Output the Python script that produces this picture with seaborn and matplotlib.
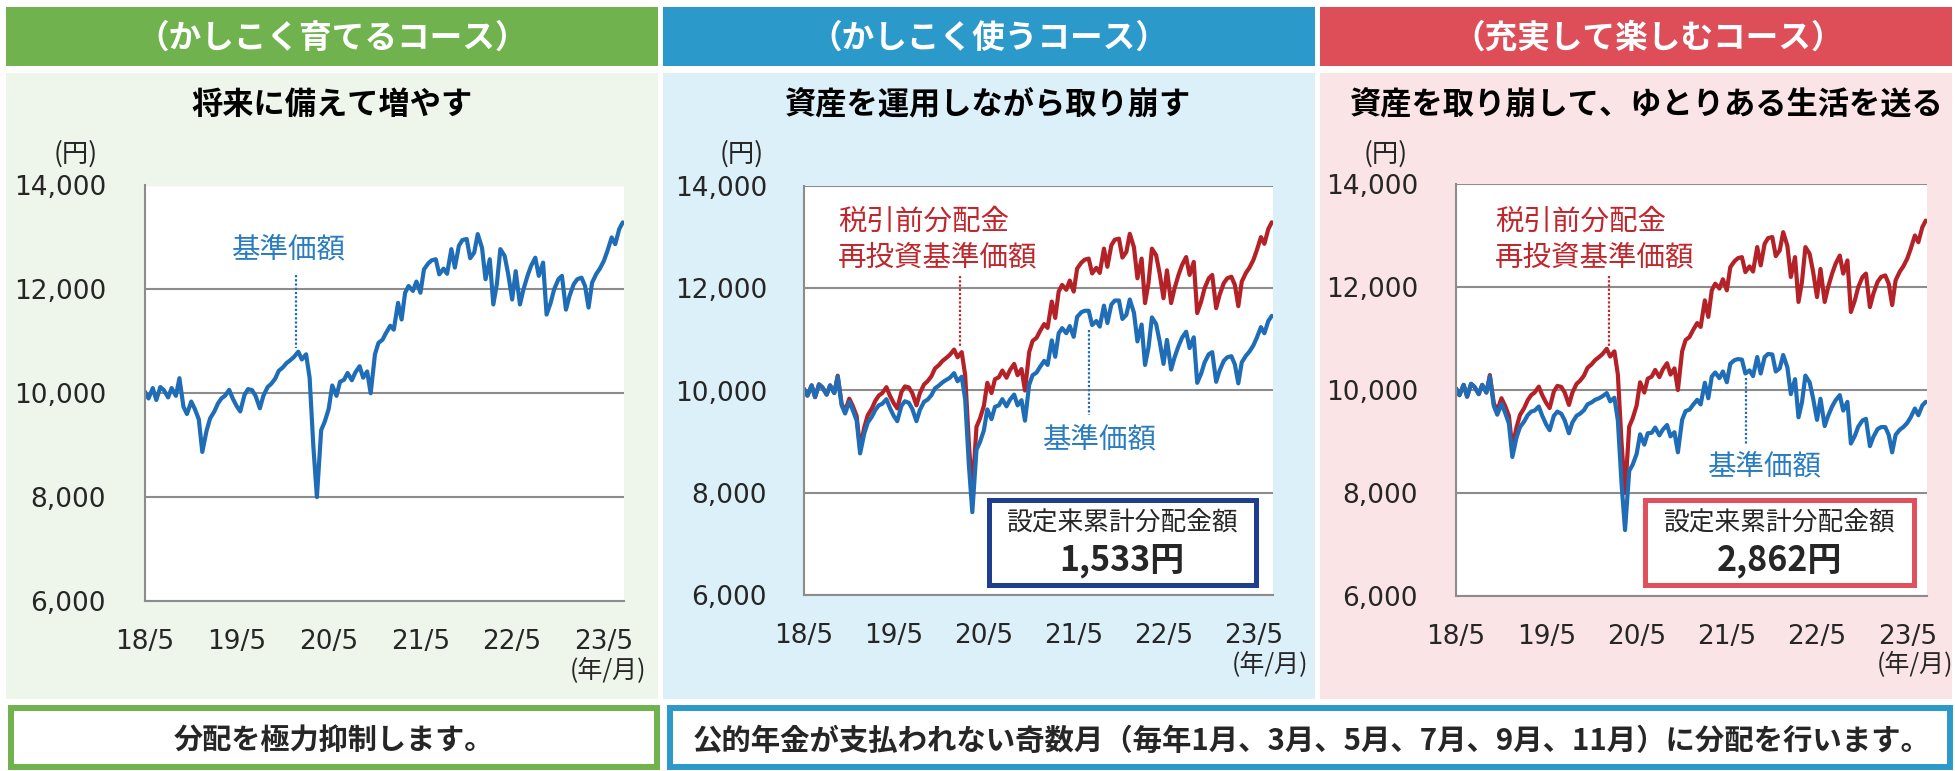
"""Three course comparison: NAV vs dividend-reinvested NAV"""

import pandas as pd
import matplotlib.pyplot as plt
import matplotlib.patches as mpatches
from matplotlib.lines import Line2D
import seaborn as sns

W, H = 1955, 771

# semi-monthly readings (1st / 15th), 2018/5 .. 2023/7
reinvest_nav = [
    10030, 9900, 10100, 9870, 10120, 10060, 9920, 10100, 9950,
    10290, 9740, 9600, 9840, 9700, 9500, 8870, 9280, 9515, 9650, 9800, 9900, 9950, 10065,
    9900, 9750, 9650, 9970, 10080, 10060, 9950, 9710, 9950, 10120, 10180, 10280, 10430,
    10500, 10580, 10640, 10700, 10800, 10650, 10750,
    10300, 8970, 8000, 9290, 9450, 9700, 10150, 9950, 10220, 10260, 10390, 10250, 10400,
    10520, 10300, 10420, 10000, 10750, 10970, 11030, 11160, 11300, 11225, 11740,
    11420, 11935, 12065, 11970, 12150, 11935, 12385, 12500, 12560, 12580, 12290, 12400,
    12300, 12775, 12420, 12840, 12950, 12970, 12600, 12710, 13065, 12800,
    12195, 12580, 11710, 12100, 12775, 12645, 12300, 11805, 12350, 11710, 12000, 12260,
    12450, 12610, 12260, 12515, 11515, 11740,
    12000, 12195, 12260, 11610, 11870, 12100, 12195, 12225, 12065, 11650, 12130, 12300,
    12400, 12550, 12740, 13000, 12870, 13160, 13290,
]
nav_use = [
    10030, 9900, 10100, 9870, 10120, 10060, 9920, 10100, 9950,
    10270, 9710, 9550, 9780, 9620, 9410, 8770, 9160, 9370, 9490, 9620, 9710, 9740, 9830,
    9660, 9500, 9400, 9700, 9790, 9760, 9640, 9400, 9620, 9780, 9820, 9910, 10040,
    10100, 10160, 10210, 10250, 10340, 10180, 10270,
    9830, 8550, 7620, 8840, 8990, 9220, 9630, 9440, 9680, 9710, 9830, 9690, 9820,
    9920, 9710, 9810, 9410, 10110, 10300, 10350, 10460, 10580, 10500, 10980,
    10660, 11120, 11220, 11120, 11260, 11050, 11440, 11530, 11560, 11560, 11280, 11360,
    11250, 11660, 11320, 11680, 11760, 11760, 11400, 11480, 11780, 11520,
    10960, 11290, 10500, 10840, 11430, 11300, 10970, 10520, 10990, 10410, 10650, 10870,
    11030, 11150, 10830, 11040, 10150, 10330,
    10550, 10710, 10750, 10170, 10390, 10580, 10650, 10670, 10510, 10140, 10550, 10680,
    10760, 10880, 11030, 11240, 11120, 11360, 11460,
]
nav_enjoy = [
    10030, 9900, 10100, 9870, 10120, 10060, 9920, 10100, 9950,
    10260, 9690, 9520, 9730, 9570, 9350, 8700, 9080, 9280, 9390, 9510, 9580, 9600, 9680,
    9500, 9330, 9220, 9500, 9580, 9540, 9410, 9160, 9370, 9500, 9540, 9610, 9720,
    9760, 9810, 9840, 9880, 9940, 9780, 9850,
    9410, 8180, 7280, 8430, 8550, 8760, 9140, 8940, 9160, 9170, 9270, 9120, 9230,
    9320, 9100, 9180, 8790, 9420, 9590, 9620, 9710, 9810, 9720, 10140,
    9840, 10260, 10340, 10230, 10360, 10150, 10510, 10580, 10600, 10590, 10320, 10380,
    10270, 10640, 10320, 10640, 10700, 10690, 10360, 10420, 10680, 10440,
    9920, 10210, 9470, 9760, 10280, 10150, 9840, 9420, 9830, 9300, 9500, 9680,
    9800, 9900, 9600, 9770, 8960, 9110,
    9290, 9410, 9440, 8910, 9090, 9240, 9280, 9280, 9130, 8790, 9130, 9230,
    9280, 9360, 9470, 9640, 9510, 9700, 9770,
]
dates = pd.date_range("2018-05-01", periods=len(reinvest_nav), freq="SMS")

tick_dates = pd.to_datetime(["2018-05-01", "2019-05-01", "2020-05-01",
                             "2021-05-01", "2022-05-01", "2023-05-01"])
tick_labels = ["18/5", "19/5", "20/5", "21/5", "22/5", "23/5"]
y_ticks = [6000, 8000, 10000, 12000, 14000]

courses = ["（かしこく育てるコース）", "（かしこく使うコース）", "（充実して楽しむコース）"]
subtitles = ["将来に備えて増やす", "資産を運用しながら取り崩す",
             "資産を取り崩して、ゆとりある生活を送る"]
dist_label = "設定来累計分配金額"
dist_totals = ["1,533円", "2,862円"]
footers = ["分配を極力抑制します。",
           "公的年金が支払われない奇数月（毎年1月、3月、5月、7月、9月、11月）に分配を行います。"]

BLUE = "#1f6db6"
RED = "#b42127"
TXT_BLUE = "#2a7cc1"
TXT_RED = "#c0272d"
GRID = "#8c8c8c"
HEAD = ["#6fb24e", "#2c99cb", "#de4e59"]
BG = ["#eef6ec", "#dcf0f9", "#fbe4e6"]


def rect(fig, x0, y0, x1, y1, **kw):
    fig.patches.append(mpatches.Rectangle(
        (x0 / W, 1 - y1 / H), (x1 - x0) / W, (y1 - y0) / H,
        transform=fig.transFigure, **kw))


def ftext(fig, x, y, s, **kw):
    kw.setdefault("ha", "center")
    kw.setdefault("va", "center")
    fig.text(x / W, 1 - y / H, s, **kw)


def dotted(fig, x, y0, y1, color):
    fig.add_artist(Line2D([x / W, x / W], [1 - y0 / H, 1 - y1 / H],
                          transform=fig.transFigure, color=color, lw=1.6,
                          linestyle=(0, (1.0, 0.9))))


def panel(fig, box, series, ylab_x, unit_pos):
    x0, y0, x1, y1 = box
    ax = fig.add_axes([x0 / W, 1 - y1 / H, (x1 - x0) / W, (y1 - y0) / H])
    ax.set_facecolor("white")
    for vals, color in series:
        sns.lineplot(x=dates, y=vals, ax=ax, color=color, linewidth=3.0,
                     legend=False)
    ax.set_xlim(pd.Timestamp("2018-05-01"), pd.Timestamp("2023-07-20"))
    ax.set_ylim(6000, 14000)
    ax.set_yticks(y_ticks)
    ax.set_yticklabels([f"{v:,}" for v in y_ticks], fontfamily="DejaVu Sans",
                       fontsize=19)
    ax.set_xticks(tick_dates)
    ax.set_xticklabels(tick_labels, fontfamily="DejaVu Sans", fontsize=19)
    ax.tick_params(axis="y", length=0, pad=(x0 - ylab_x) * 0.72)
    ax.tick_params(axis="x", direction="in", length=6.5, width=1.5,
                   color=GRID, pad=20)
    ax.grid(axis="y", color=GRID, linewidth=1.5)
    ax.grid(axis="x", visible=False)
    ax.set_axisbelow(True)
    for s in ["top", "right"]:
        ax.spines[s].set_visible(False)
    for s in ["left", "bottom"]:
        ax.spines[s].set_color(GRID)
        ax.spines[s].set_linewidth(1.5)
    ax.set_xlabel("")
    ax.set_ylabel("")
    ftext(fig, unit_pos[0], 154, "(円)", fontsize=19)
    ftext(fig, unit_pos[1], unit_pos[2], "(年/月)", fontsize=18, ha="right")
    return ax


def main():
    sns.set_style("white")
    plt.rcParams["font.family"] = ["Noto Sans CJK JP", "DejaVu Sans"]
    fig = plt.figure(figsize=(W / 100, H / 100), dpi=100)

    cols = [(6, 658), (663, 1315), (1320, 1952)]
    head_cx = [332, 989, 1648]
    title_cx = [332, 988, 1647]
    for i, (a, b) in enumerate(cols):
        rect(fig, a, 7, b, 66, facecolor=HEAD[i], lw=0, zorder=-2)
        rect(fig, a, 73, b, 699, facecolor=BG[i], lw=0, zorder=-2)
        ftext(fig, head_cx[i], 38, courses[i], fontsize=23.5,
              fontweight="bold", color="white")
        ftext(fig, title_cx[i], 105, subtitles[i], fontsize=22.5,
              fontweight="bold", color="black")

    panel(fig, (145, 185.5, 624, 601), [(reinvest_nav, BLUE)], 106,
          (76, 646, 671))
    panel(fig, (804, 186, 1273, 595), [(reinvest_nav, RED), (nav_use, BLUE)],
          767, (742, 1308, 665))
    panel(fig, (1456, 184, 1927, 596), [(reinvest_nav, RED), (nav_enjoy, BLUE)],
          1418, (1386, 1953, 665))

    # annotations
    ftext(fig, 289, 249, "基準価額", fontsize=20.5, color=TXT_BLUE)
    dotted(fig, 296, 275, 348, BLUE)

    for lx, dx, bx, by, bdx, bd0, bd1 in [
        (838, 960, 1100, 439, 1089, 330, 415),
        (1495, 1609, 1765, 466, 1746, 378, 445),
    ]:
        ftext(fig, lx, 222, "税引前分配金", fontsize=20.5, color=TXT_RED,
              ha="left")
        ftext(fig, lx, 257, "再投資基準価額", fontsize=20.5, color=TXT_RED,
              ha="left")
        dotted(fig, dx, 276, 346, TXT_RED)
        ftext(fig, bx, by, "基準価額", fontsize=20.5, color=TXT_BLUE)
        dotted(fig, bdx, bd0, bd1, BLUE)

    # cumulative distribution boxes
    for (a, b), col, total in [((986, 1258), "#1e3f8f", dist_totals[0]),
                               ((1642, 1916), "#e0505d", dist_totals[1])]:
        rect(fig, a + 2.5, 499.5, b - 2.5, 585, facecolor="white",
             edgecolor=col, lw=3.6, zorder=5)
        cx = (a + b) / 2
        ftext(fig, cx, 524, dist_label, fontsize=18.5, zorder=6)
        ftext(fig, cx, 560, total, fontsize=24.5, fontweight="bold", zorder=6)

    # footers
    rect(fig, 11, 708, 657, 767, facecolor="white", edgecolor=HEAD[0], lw=4.3)
    ftext(fig, 334, 740, footers[0], fontsize=21, fontweight="bold")
    rect(fig, 670, 708, 1950, 767, facecolor="white", edgecolor=HEAD[1], lw=4.3)
    ftext(fig, 1312, 741, footers[1], fontsize=21.2, fontweight="bold")

    fig.savefig("out.png", dpi=100)


if __name__ == "__main__":
    main()
